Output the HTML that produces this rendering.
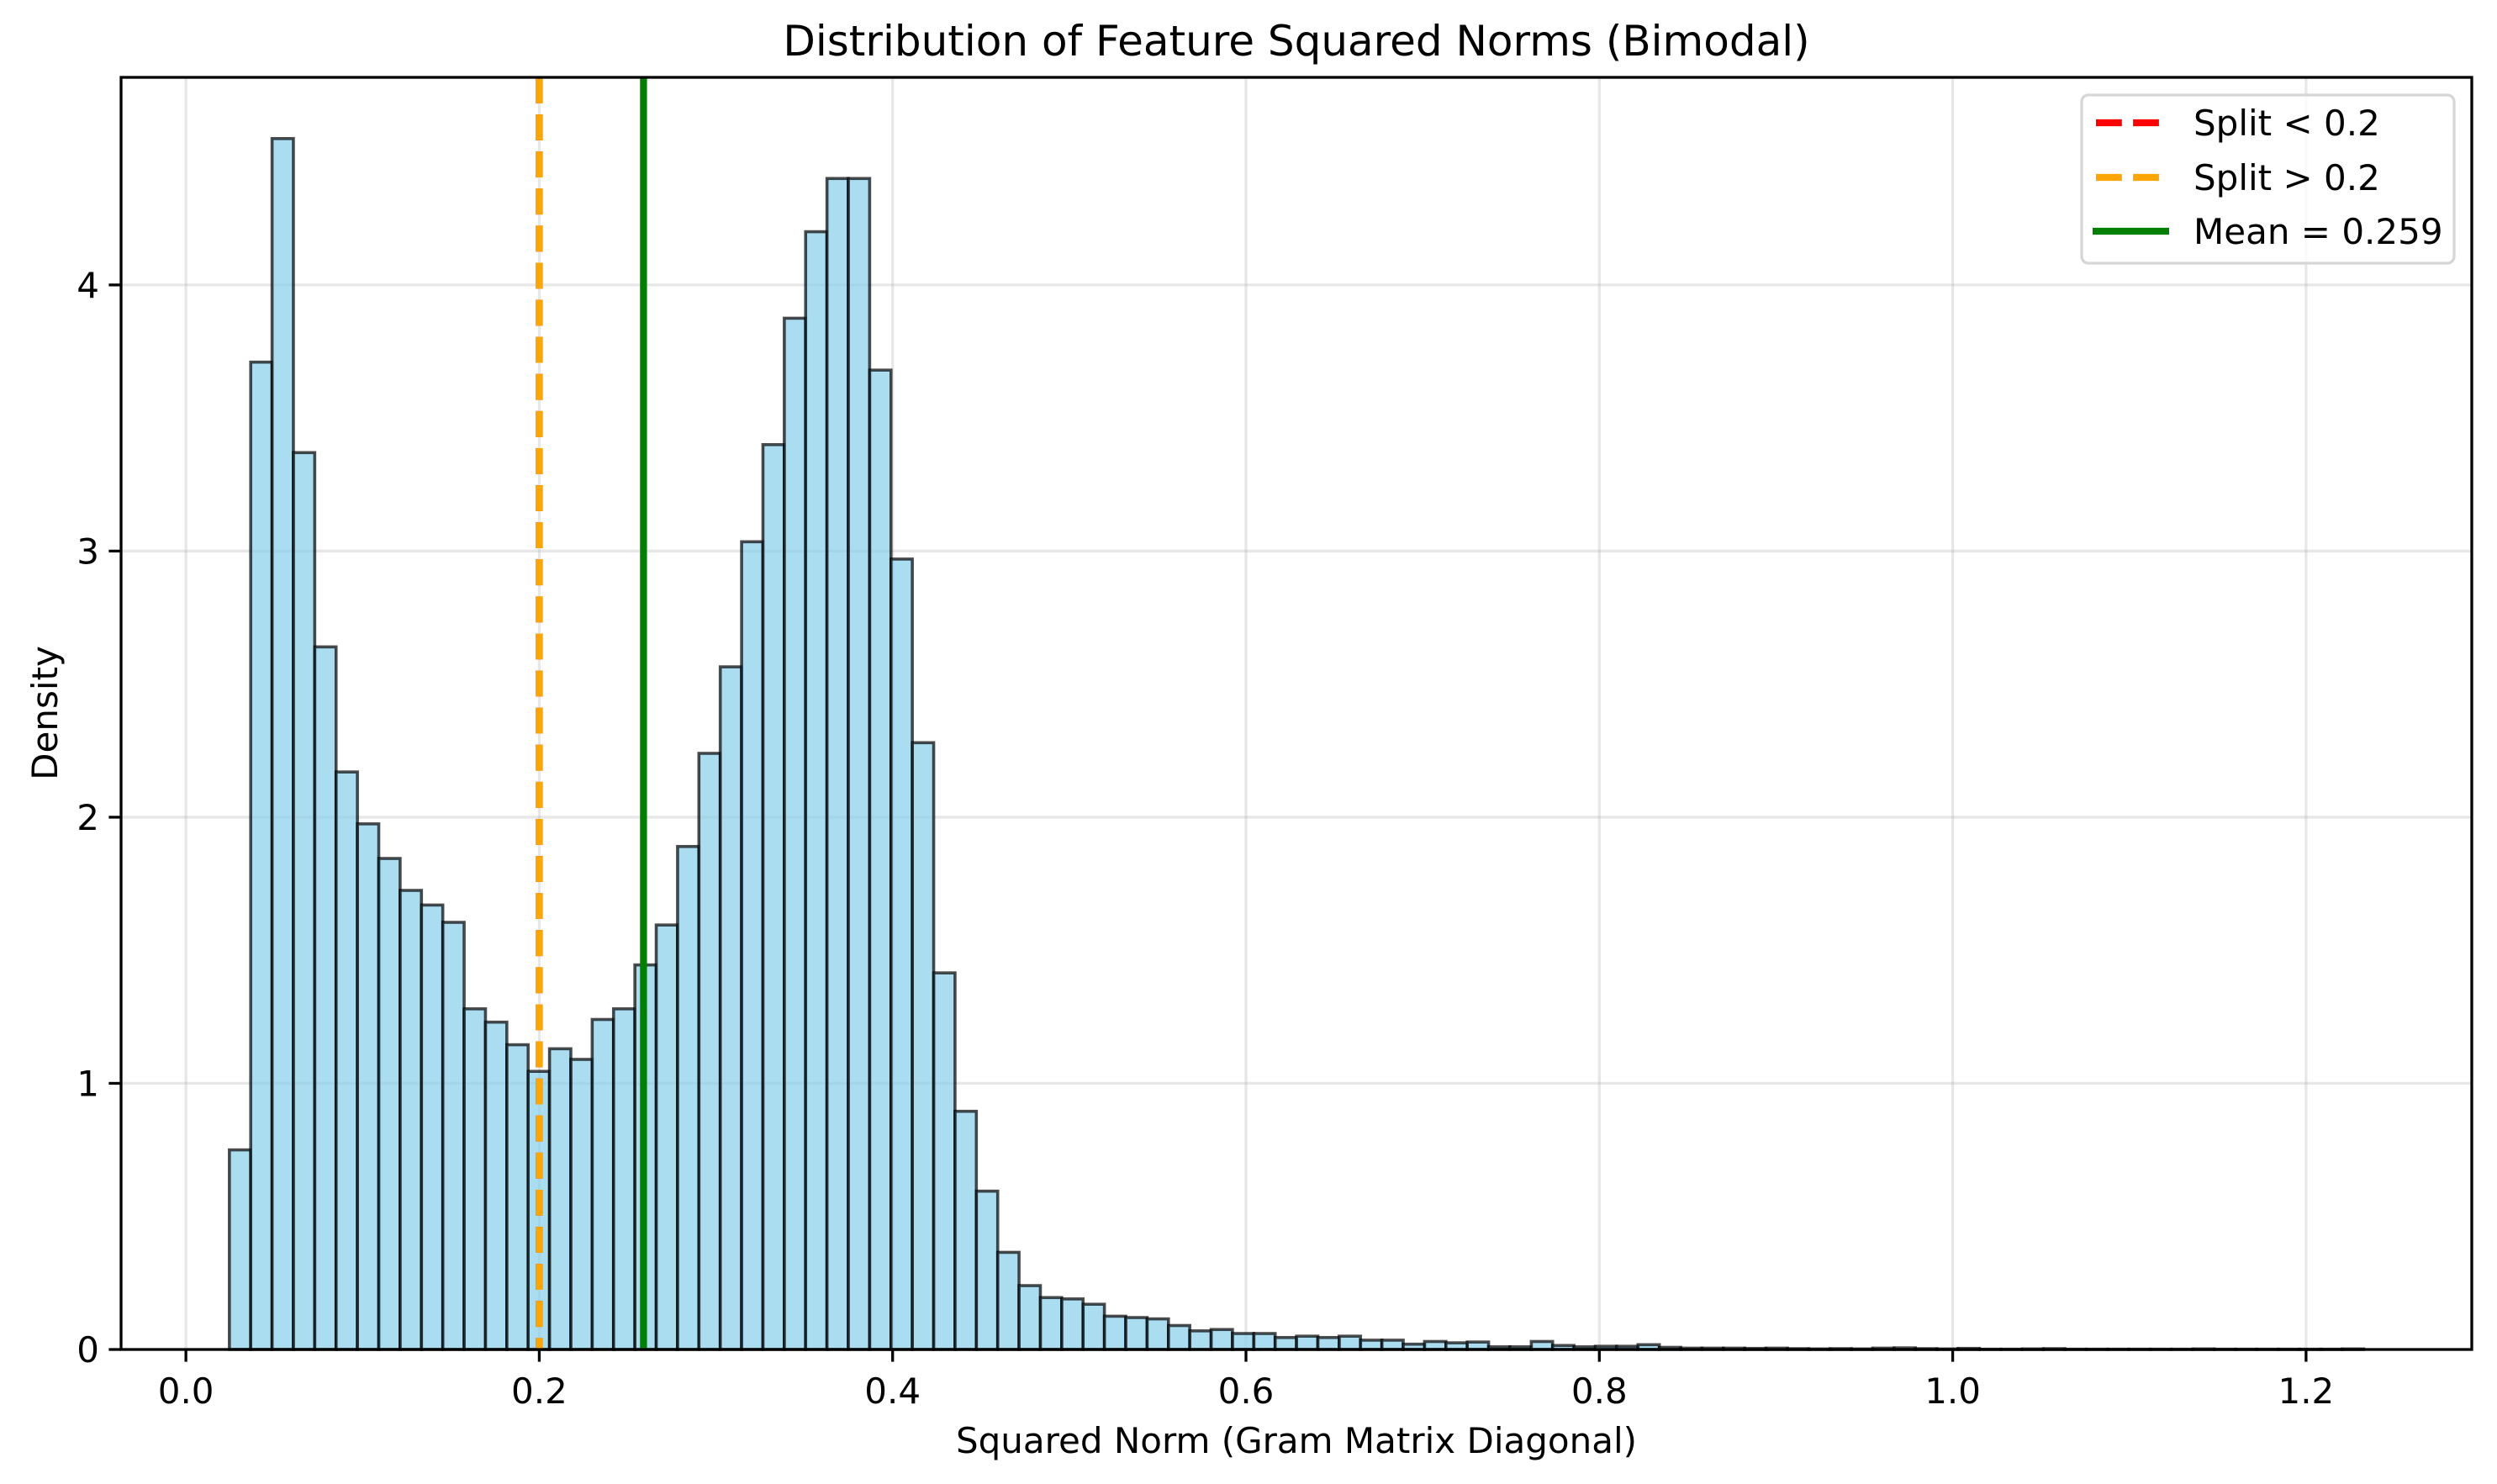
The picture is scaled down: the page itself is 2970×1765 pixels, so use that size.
<!DOCTYPE html>
<html><head><meta charset="utf-8"><style>
html,body{margin:0;padding:0;background:#fff}
svg{display:block}
text{font-family:"DejaVu Sans","Liberation Sans",sans-serif;fill:#000}
</style></head><body>
<svg id="chart" width="2970" height="1765" viewBox="0 0 2970 1765" xmlns="http://www.w3.org/2000/svg">
<rect x="0" y="0" width="2970" height="1765" fill="#fff"/>
<g id="grid"></g>
<g id="bars"></g>
<g id="refs"></g>
<g id="axes"></g>
<text x="1542" y="66" font-size="50" text-anchor="middle">Distribution of Feature Squared Norms (Bimodal)</text>
<text x="1542" y="1728" font-size="42" text-anchor="middle">Squared Norm (Gram Matrix Diagonal)</text>
<text x="0" y="0" font-size="42" text-anchor="middle" transform="translate(68,848) rotate(-90)">Density</text>
<g id="legend">
<rect x="2476" y="113" width="443" height="200" rx="8" fill="#fff" fill-opacity="0.8" stroke="#d6d6d6" stroke-width="3.3"/>
<line x1="2493" y1="146" x2="2576" y2="146" stroke="#ff0000" stroke-width="8.3" stroke-dasharray="30.8,13.3"/>
<text x="2609" y="161" font-size="42">Split &lt; 0.2</text>
<line x1="2493" y1="211" x2="2576" y2="211" stroke="#ffa500" stroke-width="8.3" stroke-dasharray="30.8,13.3"/>
<text x="2609" y="226" font-size="42">Split &gt; 0.2</text>
<line x1="2489" y1="275" x2="2580" y2="275" stroke="#008000" stroke-width="8.3"/>
<text x="2609" y="290" font-size="42">Mean = 0.259</text>
</g>
</svg>
<script>
const binStart = 0.0246;
const binWidth = 0.01208;
const densities = [0.75,3.71,4.55,3.37,2.64,2.17,1.975,1.845,1.725,1.67,
1.605,1.28,1.23,1.145,1.045,1.13,1.09,1.24,1.28,1.445,
1.595,1.89,2.24,2.565,3.035,3.40,3.875,4.20,4.40,4.40,
3.68,2.97,2.28,1.415,0.895,0.595,0.365,0.24,0.195,0.19,
0.17,0.125,0.12,0.115,0.09,0.07,0.075,0.06,0.06,0.045,
0.05,0.045,0.05,0.035,0.035,0.02,0.03,0.025,0.028,0.01,
0.01,0.03,0.015,0.01,0.012,0.012,0.018,0.008,0.005,0.005,
0.005,0.004,0.005,0.003,0.002,0.003,0.002,0.005,0.006,0.003,
0.002,0.004,0.001,0.001,0.002,0.003,0.001,0.001,0.001,0.001,
0.001,0.001,0.002,0.001,0.001,0.001,0.001,0.001,0.001,0.002];
const xTicks = [0.0,0.2,0.4,0.6,0.8,1.0,1.2];
const xTickLabels = ["0.0","0.2","0.4","0.6","0.8","1.0","1.2"];
const yTicks = [0,1,2,3,4];
const yTickLabels = ["0","1","2","3","4"];
const splitValue = 0.2;
const meanValue = 0.259;

const L=144,R=2940,T=92,B=1605;
const xMin=-0.0367,xMax=1.2938,yMin=0,yMax=4.78;
const sx=v=>L+(v-xMin)/(xMax-xMin)*(R-L);
const sy=v=>B-(v-yMin)/(yMax-yMin)*(B-T);
const NS="http://www.w3.org/2000/svg";
function mk(tag,attrs,parent){const e=document.createElementNS(NS,tag);for(const k in attrs)e.setAttribute(k,attrs[k]);parent.appendChild(e);return e;}
const grid=document.getElementById('grid'),bars=document.getElementById('bars'),refs=document.getElementById('refs'),axes=document.getElementById('axes');

xTicks.forEach((t,i)=>{
  const x=sx(t);
  const g=mk('line',{x1:x,y1:T,x2:x,y2:B,stroke:'#b0b0b0','stroke-opacity':0.3,'stroke-width':3.3},grid);
  
  
  const tk=mk('line',{x1:x,y1:B,x2:x,y2:B+14.6,stroke:'#000','stroke-width':3.3},axes);
  
  
  const tx=mk('text',{x:x,y:B+64,'font-size':42,'text-anchor':'middle'},axes);
  tx.textContent=xTickLabels[i];
  
  
});
yTicks.forEach((t,i)=>{
  const y=sy(t);
  const g=mk('line',{x1:L,y1:y,x2:R,y2:y,stroke:'#b0b0b0','stroke-opacity':0.3,'stroke-width':3.3},grid);
  
  
  const tk=mk('line',{x1:L-14.6,y1:y,x2:L,y2:y,stroke:'#000','stroke-width':3.3},axes);
  
  
  const tx=mk('text',{x:L-26,y:y+15,'font-size':42,'text-anchor':'end'},axes);
  tx.textContent=yTickLabels[i];
  
  
});
densities.forEach((d,i)=>{
  const x0=sx(binStart+i*binWidth),x1=sx(binStart+(i+1)*binWidth);
  const y=sy(d);
  const r=mk('rect',{x:x0,y:y,width:x1-x0,height:B-y,fill:'#87ceeb','fill-opacity':0.7,stroke:'#000','stroke-opacity':0.7,'stroke-width':3.6},bars);
  
  
});
const xs=sx(splitValue);
const l1=mk('line',{x1:xs,y1:T,x2:xs,y2:B,stroke:'#ff0000','stroke-width':8.3,'stroke-dasharray':'30.8,13.3'},refs);


const l2=mk('line',{x1:xs,y1:T,x2:xs,y2:B,stroke:'#ffa500','stroke-width':8.3,'stroke-dasharray':'30.8,13.3'},refs);


const xm=sx(meanValue);
const l3=mk('line',{x1:xm,y1:T,x2:xm,y2:B,stroke:'#008000','stroke-width':8.3},refs);


const fr=mk('rect',{x:L,y:T,width:R-L,height:B-T,fill:'none',stroke:'#000','stroke-width':3.3},axes);


</script>
</body></html>
